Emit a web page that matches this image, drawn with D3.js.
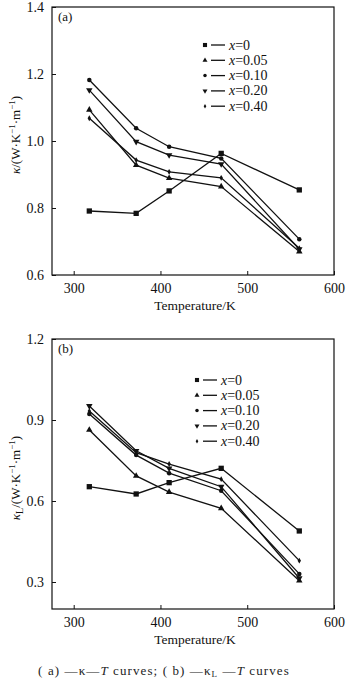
<!DOCTYPE html>
<html>
<head>
<meta charset="utf-8">
<script src="https://cdnjs.cloudflare.com/ajax/libs/d3/7.8.5/d3.min.js"></script>
<style>
  body { margin: 0; background: #fff; }
  svg { font-family: "Liberation Serif", "DejaVu Serif", serif; }
</style>
</head>
<body>
<div id="chart"></div>
<script>
var width = 354;
var height = 686;

// temperatures (K) and series
var temps = [318, 372, 410, 470, 560];
var seriesNames = ["0", "0.05", "0.10", "0.20", "0.40"];

// panel (a): total thermal conductivity kappa
var kappa0 = [0.791, 0.784, 0.851, 0.963, 0.854];
var kappa005 = [1.093, 0.928, 0.889, 0.864, 0.670];
var kappa010 = [1.182, 1.038, 0.983, 0.948, 0.707];
var kappa020 = [1.152, 0.998, 0.958, 0.931, 0.677];
var kappa040 = [1.068, 0.943, 0.908, 0.890, 0.680];

// panel (b): lattice thermal conductivity kappa_L
var kappaL0 = [0.653, 0.626, 0.668, 0.721, 0.489];
var kappaL005 = [0.863, 0.693, 0.633, 0.573, 0.305];
var kappaL010 = [0.922, 0.770, 0.703, 0.638, 0.330];
var kappaL020 = [0.952, 0.786, 0.721, 0.653, 0.314];
var kappaL040 = [0.933, 0.779, 0.737, 0.681, 0.379];

var xTicks = [300, 400, 500, 600];
var yTicksA = [0.6, 0.8, 1.0, 1.2, 1.4];
var yTicksB = [0.3, 0.6, 0.9, 1.2];

var symbols = [d3.symbolSquare, d3.symbolTriangle, d3.symbolCircle, d3.symbolTriangle, d3.symbolDiamond];
var symSizes = [28, 18, 16, 18, 10];
var symRotate = [0, 0, 0, 180, 0];

var svg = d3.select("#chart")
  .append("svg")
  .attr("width", width)
  .attr("height", height);

svg.append("rect")
  .attr("width", "100%")
  .attr("height", "100%")
  .attr("fill", "white");

function drawPanel(opt) {
  var x = d3.scaleLinear().domain([275, 600]).range([52, 334]);
  var y = d3.scaleLinear().domain(opt.yDomain).range([opt.bottom, opt.top]);
  var g = svg.append("g");

  // frame
  g.append("rect")
    .attr("x", x.range()[0])
    .attr("y", opt.top)
    .attr("width", x.range()[1] - x.range()[0])
    .attr("height", opt.bottom - opt.top)
    .attr("fill", "none")
    .attr("stroke", "#111")
    .attr("stroke-width", 1.2);

  // axes, ticks inward
  var xAxis = d3.axisBottom(x).tickValues(xTicks).tickSizeInner(-4).tickSizeOuter(0).tickPadding(8);
  g.append("g")
    .attr("transform", "translate(0," + opt.bottom + ")")
    .call(xAxis)
    .call(function(s) {
      s.select(".domain").remove();
      s.selectAll("line").attr("stroke", "#111");
      s.selectAll("text").attr("font-size", 14).attr("fill", "#111").attr("font-family", "Liberation Serif");
    });

  var yAxis = d3.axisLeft(y).tickValues(opt.yTicks).tickFormat(d3.format(".1f")).tickSizeInner(-4).tickSizeOuter(0).tickPadding(8);
  g.append("g")
    .attr("transform", "translate(" + x.range()[0] + ",0)")
    .call(yAxis)
    .call(function(s) {
      s.select(".domain").remove();
      s.selectAll("line").attr("stroke", "#111");
      s.selectAll("text").attr("font-size", 14).attr("fill", "#111").attr("font-family", "Liberation Serif");
    });

  // panel label
  g.append("text")
    .attr("x", 58)
    .attr("y", opt.top + 14)
    .attr("font-size", 13)
    .attr("fill", "#111")
    .text(opt.label);

  // x title
  g.append("text")
    .attr("x", 195)
    .attr("y", opt.bottom + 35)
    .attr("text-anchor", "middle")
    .attr("font-size", 13.5)
    .attr("fill", "#111")
    .text("Temperature/K");

  // y title
  var yt = g.append("text")
    .attr("transform", "translate(20," + opt.yLabelY + ") rotate(-90)")
    .attr("text-anchor", "middle")
    .attr("font-size", 13)
    .attr("fill", "#111");
  yt.append("tspan").attr("font-style", "italic").text("\u03ba");
  if (opt.sub) yt.append("tspan").attr("font-size", 10).attr("dy", 3).text("L");
  yt.append("tspan").attr("dy", opt.sub ? -3 : 0).text("/(W\u00b7K");
  yt.append("tspan").attr("font-size", 9).attr("dy", -5).text("\u22121");
  yt.append("tspan").attr("dy", 5).text("\u00b7m");
  yt.append("tspan").attr("font-size", 9).attr("dy", -5).text("\u22121");
  yt.append("tspan").attr("dy", 5).text(")");

  var line = d3.line()
    .x(function(d, i) { return x(temps[i]); })
    .y(function(d) { return y(d); });

  opt.series.forEach(function(vals, k) {
    g.append("path")
      .datum(vals)
      .attr("d", line)
      .attr("fill", "none")
      .attr("stroke", "#111")
      .attr("stroke-width", 1.3);

    g.selectAll(null)
      .data(vals)
      .enter()
      .append("path")
      .attr("d", d3.symbol().type(symbols[k]).size(symSizes[k]))
      .attr("transform", function(d, i) {
        return "translate(" + x(temps[i]) + "," + y(d) + ") rotate(" + symRotate[k] + ")";
      })
      .attr("fill", "#111");
  });

  // legend
  var lg = g.append("g");
  seriesNames.forEach(function(name, k) {
    var ly = opt.legendY + k * 15.3;
    lg.append("path")
      .attr("d", d3.symbol().type(symbols[k]).size(symSizes[k] * 0.6))
      .attr("transform", "translate(" + opt.legendX + "," + ly + ") rotate(" + symRotate[k] + ")")
      .attr("fill", "#111");
    lg.append("line")
      .attr("x1", opt.legendX + 6)
      .attr("x2", opt.legendX + 20)
      .attr("y1", ly)
      .attr("y2", ly)
      .attr("stroke", "#111")
      .attr("stroke-width", 1.3);
    var t = lg.append("text")
      .attr("x", opt.legendX + 24)
      .attr("y", ly + 4.5)
      .attr("font-size", 14)
      .attr("fill", "#111");
    t.append("tspan").attr("font-style", "italic").text("x");
    t.append("tspan").text("=" + name);
  });
}

drawPanel({
  top: 7, bottom: 275,
  yDomain: [0.6, 1.4], yTicks: yTicksA,
  label: "(a)", sub: false, yLabelY: 135,
  series: [kappa0, kappa005, kappa010, kappa020, kappa040],
  legendX: 205, legendY: 45
});

drawPanel({
  top: 339, bottom: 609,
  yDomain: [0.2, 1.2], yTicks: yTicksB,
  label: "(b)", sub: true, yLabelY: 478,
  series: [kappaL0, kappaL005, kappaL010, kappaL020, kappaL040],
  legendX: 197, legendY: 380
});

// caption
var cap = svg.append("text")
  .attr("x", 164)
  .attr("y", 675)
  .attr("text-anchor", "middle")
  .attr("font-size", 13)
  .attr("letter-spacing", 1.1)
  .attr("fill", "#222");
cap.append("tspan").text("( a) \u2014\u03ba\u2014");
cap.append("tspan").attr("font-style", "italic").text("T");
cap.append("tspan").text(" curves;  ( b) \u2014\u03ba");
cap.append("tspan").attr("font-size", 9).attr("dy", 2).text("L");
cap.append("tspan").attr("dy", -2).text(" \u2014");
cap.append("tspan").attr("font-style", "italic").text("T");
cap.append("tspan").text(" curves");
</script>
</body>
</html>
